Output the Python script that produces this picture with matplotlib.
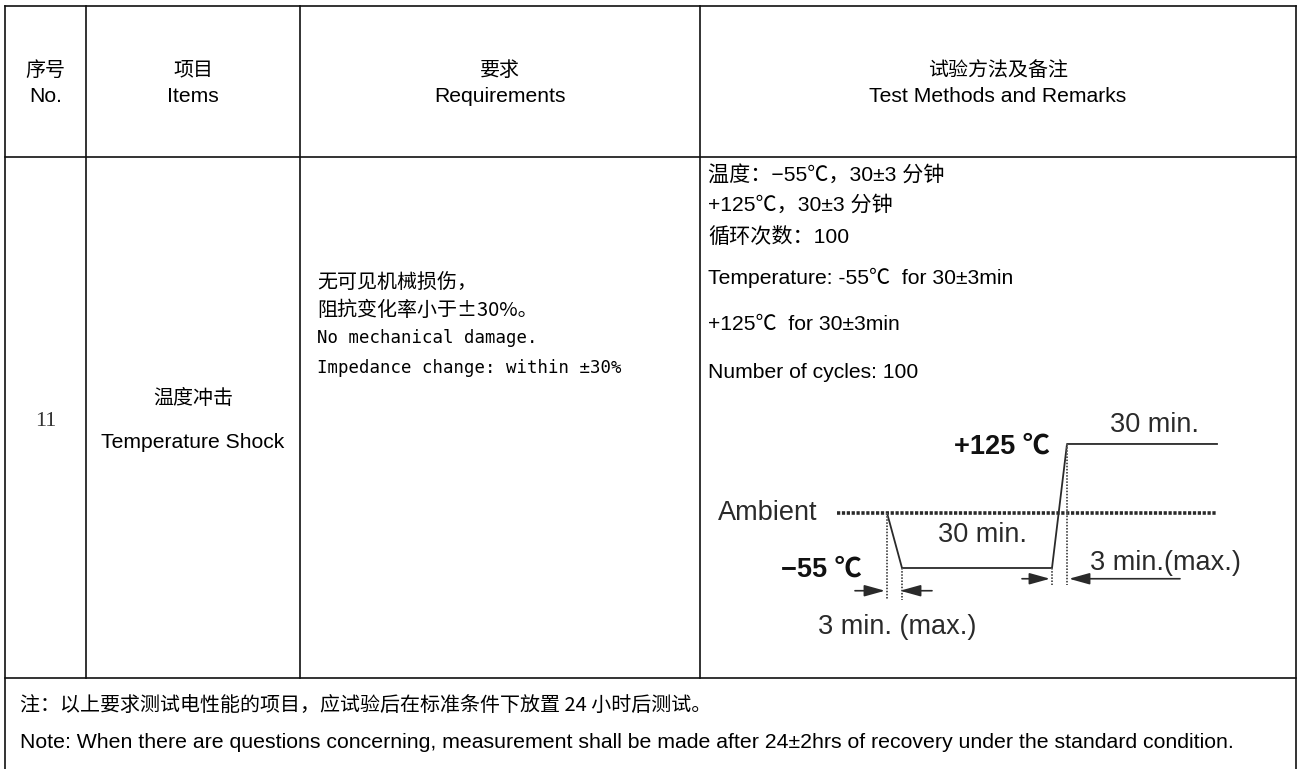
import matplotlib.pyplot as plt

# --- table content ---
headers_cn = ['序号', '项目', '要求', '试验方法及备注']
headers_en = ['No.', 'Items', 'Requirements', 'Test Methods and Remarks']
item_no = '11'
item_cn = '温度冲击'
item_en = 'Temperature Shock'
req_cn = ['无可见机械损伤，', '阻抗变化率小于±30%。']
req_en = ['No mechanical damage.', 'Impedance change: within ±30%']
method_lines = ['温度：−55℃，30±3 分钟',
                '+125℃，30±3 分钟',
                '循环次数：100',
                'Temperature: -55℃  for 30±3min',
                '+125℃  for 30±3min',
                'Number of cycles: 100']
notes = ['注：以上要求测试电性能的项目，应试验后在标准条件下放置 24 小时后测试。',
         'Note: When there are questions concerning, measurement shall be made after 24±2hrs of recovery under the standard condition.']

# --- temperature shock profile (schematic, minutes / degC) ---
profile_t = [0, 3, 33, 36, 66]
profile_T = [25, -55, -55, 125, 125]
ambient_T = 25
ramp_min = 3
hold_min = 30

CN = ['Noto Sans CJK SC', 'DejaVu Sans']
LAT = ['Liberation Sans', 'Noto Sans CJK SC']
MONO = ['DejaVu Sans Mono', 'Noto Sans CJK SC']

W, H = 1301, 769
fig = plt.figure(figsize=(W / 100, H / 100), dpi=100)
ax = fig.add_axes([0, 0, 1, 1])
ax.set_xlim(0, W)
ax.set_ylim(H, 0)
ax.axis('off')

# grid
col_x = [5, 86, 300, 700, 1296]
row_y = [6, 157, 678, 775]
lc = '#111111'
for y in row_y[:3]:
    ax.plot([col_x[0], col_x[-1]], [y, y], color=lc, lw=1.2)
for x in col_x[1:-1]:
    ax.plot([x, x], [row_y[0], row_y[2]], color=lc, lw=1.2)
for x in (col_x[0], col_x[-1]):
    ax.plot([x, x], [row_y[0], row_y[3]], color=lc, lw=1.2)

fs_cn = 14.4
fs_en = 15.2
# header
for i in range(4):
    cx = (col_x[i] + col_x[i + 1]) / 2
    ax.text(cx, 70, headers_cn[i], ha='center', va='center', fontsize=fs_cn, family=CN)
    ax.text(cx, 97, headers_en[i], ha='center', va='center', fontsize=fs_en, family=LAT)

# row 11
ax.text((col_x[0] + col_x[1]) / 2, 422, item_no, ha='center', va='center',
        fontsize=16, family=['Liberation Serif'], color='#333333')
ax.text((col_x[1] + col_x[2]) / 2, 398, item_cn, ha='center', va='center', fontsize=fs_cn, family=CN)
ax.text((col_x[1] + col_x[2]) / 2, 442, item_en, ha='center', va='center', fontsize=fs_en, family=LAT)

for y, s in zip([283, 310], req_cn):
    ax.text(317, y, s, ha='left', va='center', fontsize=fs_cn, family=CN)
for y, s in zip([338, 368], req_en):
    ax.text(317, y, s, ha='left', va='center', fontsize=12.5, family=MONO)

for y, s in zip([175, 205, 237, 278, 325, 372], method_lines):
    ax.text(708, y, s, ha='left', va='center', fontsize=fs_en, family=LAT)

ax.text(20, 705, notes[0], ha='left', va='center', fontsize=fs_cn, family=CN)
ax.text(20, 742, notes[1], ha='left', va='center', fontsize=15.3, family=LAT)

# --- diagram inset: x in minutes, y in degC ---
bx0, bx1, by0, by1 = 700, 1296, 400, 676
px0, ppm = 887, 5.0          # pixel of t=0, pixels per minute
py0, ppd = 530.1, 0.689      # pixel of 0 degC, pixels per degC
dax = fig.add_axes([bx0 / W, 1 - by1 / H, (bx1 - bx0) / W, (by1 - by0) / H])
dax.set_xlim((bx0 - px0) / ppm, (bx1 - px0) / ppm)
dax.set_ylim((py0 - by1) / ppd, (py0 - by0) / ppd)
dax.axis('off')

dc = '#2a2a2a'
dax.plot(profile_t, profile_T, color=dc, lw=1.3)
dax.plot([-10, profile_t[-1]], [ambient_T, ambient_T], color=dc, lw=2.6,
         linestyle=(0, (0.9, 0.45)))

low, high = min(profile_T), max(profile_T)
t_dn0, t_dn1 = profile_t[0], profile_t[1]
t_up0, t_up1 = profile_t[2], profile_t[3]
vc = '#555555'
dax.plot([t_dn0, t_dn0], [ambient_T, -101], color=vc, lw=1.4, linestyle=(0, (0.8, 0.8)))
dax.plot([t_dn1, t_dn1], [low, -101], color=vc, lw=1.4, linestyle=(0, (0.8, 0.8)))
dax.plot([t_up0, t_up0], [low, -80], color=vc, lw=1.4, linestyle=(0, (0.8, 0.8)))
dax.plot([t_up1, t_up1], [high, -80], color=vc, lw=1.4, linestyle=(0, (0.8, 0.8)))

ap = dict(arrowstyle='-|>,head_length=0.9,head_width=0.25', color=dc, lw=1.2,
          mutation_scale=14, shrinkA=0, shrinkB=0)
dax.annotate('', xy=(t_dn0 - 0.4, -88), xytext=(t_dn0 - 6.4, -88), arrowprops=ap)
dax.annotate('', xy=(t_dn1 - 0.4, -88), xytext=(t_dn1 + 6, -88), arrowprops=ap)
dax.annotate('', xy=(t_up0 - 0.4, -70.6), xytext=(t_up0 - 6, -70.6), arrowprops=ap)
dax.annotate('', xy=(t_up1 + 0.4, -70.6), xytext=(t_up1 + 22.6, -70.6), arrowprops=ap)

dfs = 19.5
dax.text(-14, ambient_T, 'Ambient', ha='right', va='center', fontsize=dfs, family=LAT, color=dc)
dax.text(t_up0 - 0.4, high - 4, '+125 ℃', ha='right', va='center', fontsize=dfs,
         family=LAT, weight='bold', color='#111111')
dax.text(t_dn0 - 5, low - 2, '−55 ℃', ha='right', va='center', fontsize=dfs,
         family=LAT, weight='bold', color='#111111')
dax.text((t_up1 + profile_t[-1]) / 2 + 2.5, high + 27, f'{hold_min} min.', ha='center',
         va='center', fontsize=dfs, family=LAT, color=dc)
dax.text((t_dn1 + t_up0) / 2 + 1, -7, f'{hold_min} min.', ha='center', va='center',
         fontsize=dfs, family=LAT, color=dc)
dax.text(t_up1 + 4.6, -48, f'{ramp_min} min.(max.)', ha='left', va='center',
         fontsize=dfs, family=LAT, color=dc)
dax.text(t_dn0 + 2, -140, f'{ramp_min} min. (max.)', ha='center', va='center',
         fontsize=dfs, family=LAT, color=dc)

fig.savefig('out.png', dpi=100)
